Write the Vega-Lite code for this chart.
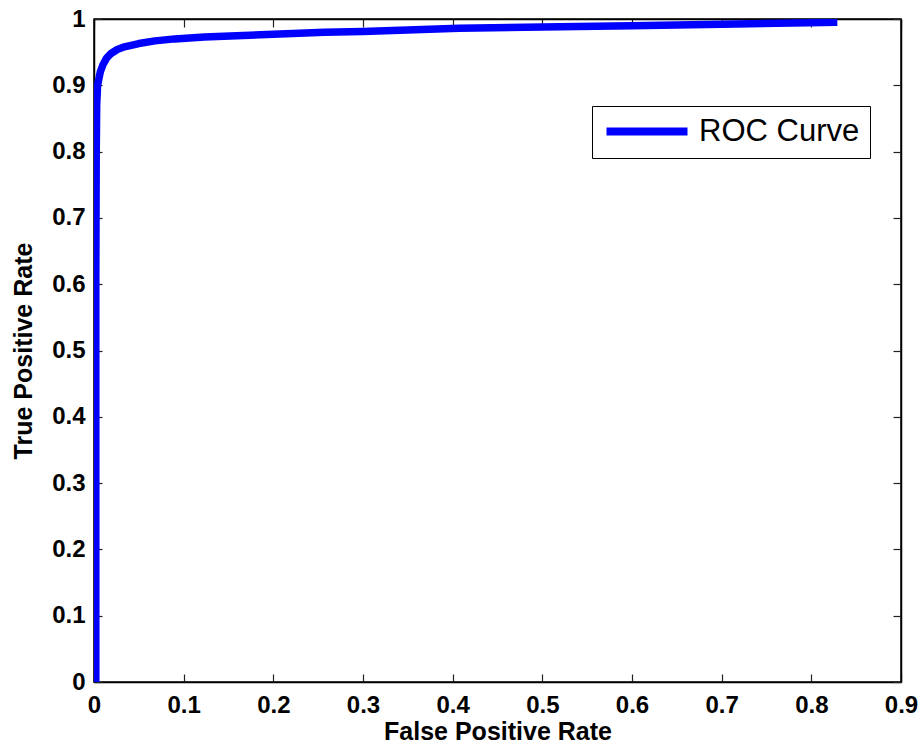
{
  "$schema": "https://vega.github.io/schema/vega-lite/v6.json",
  "width": 807,
  "height": 663,
  "autosize": {"type": "none"},
  "padding": {"left": 94, "top": 19, "right": 22, "bottom": 72},
  "background": "white",
  "config": {
    "view": {"stroke": "black", "strokeWidth": 1.5},
    "font": "Liberation Sans",
    "axis": {
      "domainColor": "black",
      "domainWidth": 1.5,
      "tickColor": "#222222",
      "tickWidth": 1.2,
      "tickSize": -8,
      "grid": false,
      "labelFlush": false,
      "labelOverlap": false,
      "labelFont": "Liberation Sans",
      "labelFontSize": 24,
      "labelFontWeight": "bold",
      "labelColor": "black",
      "titleFont": "Liberation Sans",
      "titleFontSize": 25,
      "titleFontWeight": "bold",
      "titleColor": "black"
    }
  },
  "data": {
    "values": [
      {"fpr": 0.002, "tpr": 0.0, "series": "ROC Curve"},
      {"fpr": 0.002, "tpr": 0.3, "series": "ROC Curve"},
      {"fpr": 0.002, "tpr": 0.6, "series": "ROC Curve"},
      {"fpr": 0.0025, "tpr": 0.8, "series": "ROC Curve"},
      {"fpr": 0.003, "tpr": 0.87, "series": "ROC Curve"},
      {"fpr": 0.004, "tpr": 0.9, "series": "ROC Curve"},
      {"fpr": 0.007, "tpr": 0.92, "series": "ROC Curve"},
      {"fpr": 0.010, "tpr": 0.931, "series": "ROC Curve"},
      {"fpr": 0.014, "tpr": 0.941, "series": "ROC Curve"},
      {"fpr": 0.019, "tpr": 0.948, "series": "ROC Curve"},
      {"fpr": 0.026, "tpr": 0.954, "series": "ROC Curve"},
      {"fpr": 0.034, "tpr": 0.958, "series": "ROC Curve"},
      {"fpr": 0.05, "tpr": 0.963, "series": "ROC Curve"},
      {"fpr": 0.068, "tpr": 0.967, "series": "ROC Curve"},
      {"fpr": 0.09, "tpr": 0.970, "series": "ROC Curve"},
      {"fpr": 0.123, "tpr": 0.973, "series": "ROC Curve"},
      {"fpr": 0.2, "tpr": 0.977, "series": "ROC Curve"},
      {"fpr": 0.257, "tpr": 0.980, "series": "ROC Curve"},
      {"fpr": 0.3, "tpr": 0.981, "series": "ROC Curve"},
      {"fpr": 0.407, "tpr": 0.986, "series": "ROC Curve"},
      {"fpr": 0.5, "tpr": 0.988, "series": "ROC Curve"},
      {"fpr": 0.6, "tpr": 0.990, "series": "ROC Curve"},
      {"fpr": 0.7, "tpr": 0.992, "series": "ROC Curve"},
      {"fpr": 0.829, "tpr": 0.995, "series": "ROC Curve"}
    ]
  },
  "layer": [
    {
      "mark": {"type": "line", "strokeWidth": 7.5, "clip": true, "strokeCap": "butt", "strokeJoin": "round"},
      "encoding": {
        "x": {
          "field": "fpr", "type": "quantitative",
          "scale": {"domain": [0, 0.9], "nice": false, "zero": false},
          "axis": {
            "orient": "bottom",
            "title": "False Positive Rate",
            "values": [0, 0.1, 0.2, 0.3, 0.4, 0.5, 0.6, 0.7, 0.8, 0.9],
            "labelExpr": "format(datum.value, '~g')",
            "labelPadding": 19,
            "titlePadding": 2
          }
        },
        "y": {
          "field": "tpr", "type": "quantitative",
          "scale": {"domain": [0, 1], "nice": false, "zero": false},
          "axis": {
            "orient": "left",
            "title": "True Positive Rate",
            "values": [0, 0.1, 0.2, 0.3, 0.4, 0.5, 0.6, 0.7, 0.8, 0.9, 1],
            "labelExpr": "format(datum.value, '~g')",
            "labelPadding": 17,
            "titlePadding": 15
          }
        },
        "order": {"field": "tpr", "type": "quantitative"},
        "color": {
          "field": "series", "type": "nominal",
          "scale": {"range": ["#0000ff"]},
          "legend": {
            "orient": "none",
            "legendX": 498,
            "legendY": 87,
            "title": null,
            "strokeColor": "black",
            "fillColor": "white",
            "padding": 10,
            "symbolType": "M-8.1,0H8.1",
            "symbolSize": 100,
            "symbolStrokeWidth": 8,
            "symbolOffset": 29.5,
            "labelFontSize": 31,
            "labelLimit": 400,
            "labelFont": "Liberation Sans",
            "labelColor": "black",
            "labelOffset": 36.5
          }
        }
      }
    },
    {
      "mark": {"type": "line", "strokeOpacity": 0},
      "encoding": {
        "x": {
          "field": "fpr", "type": "quantitative",
          "scale": {"domain": [0, 0.9], "nice": false, "zero": false},
          "axis": {
            "orient": "top", "title": null, "labels": false,
            "values": [0, 0.1, 0.2, 0.3, 0.4, 0.5, 0.6, 0.7, 0.8, 0.9]
          }
        },
        "y": {
          "field": "tpr", "type": "quantitative",
          "scale": {"domain": [0, 1], "nice": false, "zero": false},
          "axis": {
            "orient": "right", "title": null, "labels": false,
            "values": [0, 0.1, 0.2, 0.3, 0.4, 0.5, 0.6, 0.7, 0.8, 0.9, 1]
          }
        }
      }
    }
  ],
  "resolve": {"axis": {"x": "independent", "y": "independent"}}
}
